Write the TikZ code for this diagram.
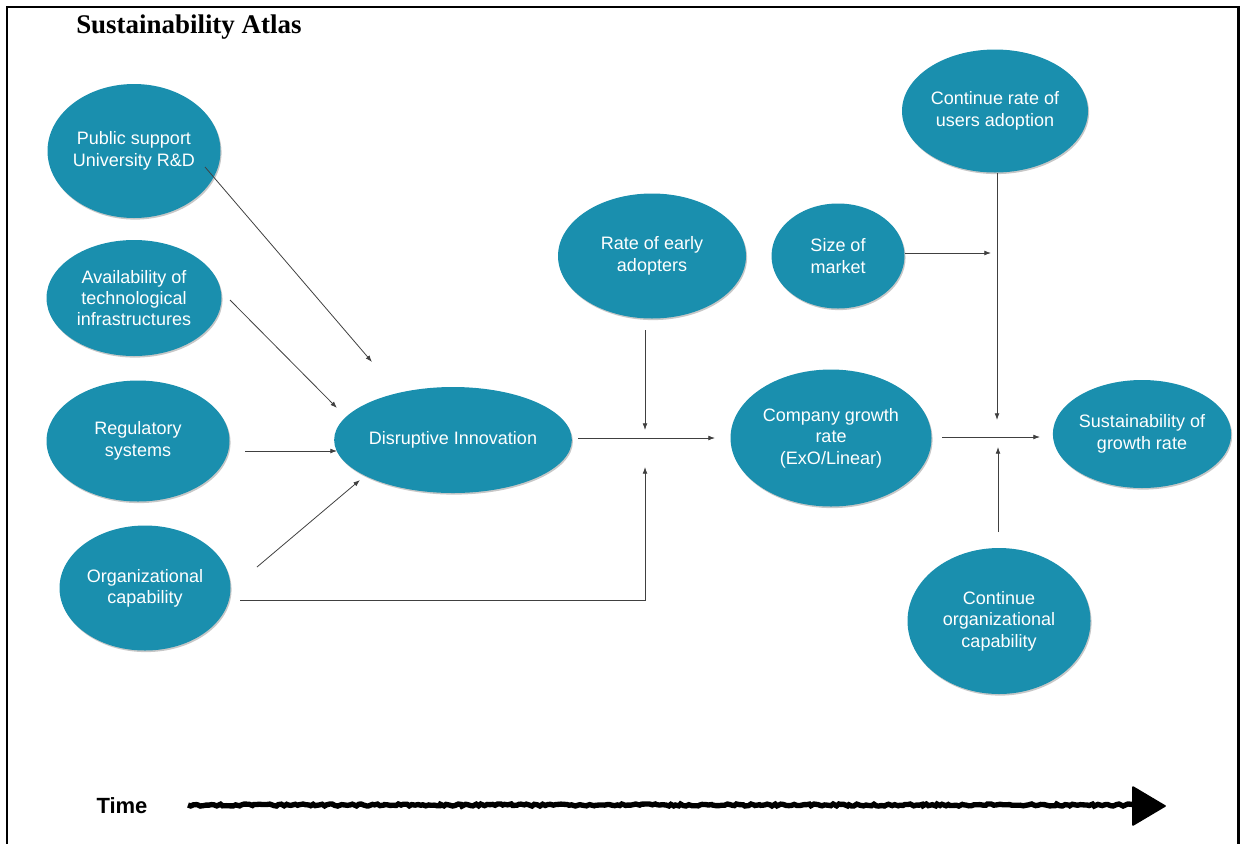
\documentclass[tikz,border=0pt]{standalone}
\usepackage{fontspec}
\setmainfont{Liberation Sans}
\newfontfamily\titlefont{Liberation Serif}
\usetikzlibrary{shapes.geometric,arrows.meta,shadows,decorations.pathmorphing}
\definecolor{teal1}{RGB}{26,143,174}
\tikzset{
  el/.style={ellipse, fill=teal1, text=white, inner sep=0pt, align=center,
    font=\fontsize{13.5pt}{16pt}\selectfont,
    drop shadow={shadow xshift=0.8pt, shadow yshift=-1.2pt, opacity=0.22, fill=black}},
  sz/.style 2 args={minimum width=#1*0.75pt, minimum height=#2*0.75pt},
  conn/.style={draw=black!75, line width=0.6pt, -{Latex[length=5pt,width=3.6pt]}},
}
\begin{document}
\begin{tikzpicture}[x=0.75pt,y=-0.75pt]
\useasboundingbox (0,0) rectangle (1241,843);
\clip (0,0) rectangle (1241,843);
% frame
\draw[line width=1.6pt] (7,7) -- (1238,7);
\draw[line width=1.6pt] (7,6) -- (7,860);
\draw[line width=2.4pt] (1238.5,6) -- (1238.5,860);
% title
\node[anchor=base west, font=\titlefont\bfseries\fontsize{20.2pt}{23pt}\selectfont, inner sep=0pt] (title) at (76,33) {Sustainability Atlas};

% nodes
\node[el, sz={173}{134}] (pub) at (134,151) {Public support\\University R\&D};
\node[el, sz={175}{116}] (avail) at (134,298) {Availability of\\technological\\infrastructures};
\node[el, sz={183}{121}] (reg) at (138,441) {Regulatory\\systems};
\node[el, sz={171}{125}] (org) at (145,588) {Organizational\\capability};
\node[el, sz={214}{106}] (dis) at (453,440) {Disruptive Innovation};
\node[el, sz={188}{125}] (early) at (652,256) {Rate of early\\adopters};
\node[el, sz={133}{105}] (size) at (838,256) {Size of\\market};
\node[el, sz={186}{123}] (cont) at (995,111) {Continue rate of\\users adoption};
\node[el, sz={201}{137}] (comp) at (831,438) {Company growth\\rate\\(ExO/Linear)};
\node[el, sz={172}{108}] (sust) at (1142,434) {Sustainability of\\growth rate};
\node[el, sz={183}{146}] (corg) at (999,621) {Continue\\organizational\\capability};

% connector end points
\coordinate (p1s) at (205,167); \coordinate (p1e) at (372,362);
\coordinate (p2s) at (230,300); \coordinate (p2e) at (337,408);
\coordinate (p3s) at (245,451); \coordinate (p3e) at (337,451);
\coordinate (p4s) at (257,567); \coordinate (p4e) at (360,480);
\coordinate (p5s) at (240,600); \coordinate (p5e) at (645,467);
\coordinate (p6s) at (578,438); \coordinate (p6e) at (715,438);
\coordinate (p7s) at (645,330); \coordinate (p7e) at (645,430);
\coordinate (p8s) at (905,253); \coordinate (p8e) at (991,253);
\coordinate (p9s) at (997,173); \coordinate (p9e) at (997,420);
\coordinate (p10s) at (942,437); \coordinate (p10e) at (1040,437);
\coordinate (p11s) at (998,532); \coordinate (p11e) at (998,447);

\draw[conn] (p1s) -- (p1e);
\draw[conn] (p2s) -- (p2e);
\draw[conn] (p3s) -- (p3e);
\draw[conn] (p4s) -- (p4e);
\draw[conn] (p5s) -| (p5e);
\draw[conn] (p6s) -- (p6e);
\draw[conn] (p7s) -- (p7e);
\draw[conn] (p8s) -- (p8e);
\draw[conn] (p9s) -- (p9e);
\draw[conn] (p10s) -- (p10e);
\draw[conn] (p11s) -- (p11e);

% time axis
\node[anchor=base, font=\bfseries\fontsize{16.5pt}{18pt}\selectfont, inner sep=0pt] (time) at (122,813) {Time};
\coordinate (t1) at (188,805);
\coordinate (t2) at (1136,805);
\draw[line width=4pt, black, decorate, decoration={random steps, segment length=2pt, amplitude=0.8pt}] (t1) -- (t2);
\draw[line width=1.2pt, line join=round, fill=black] (1133,787) -- (1165,806) -- (1133,825) -- cycle;
\end{tikzpicture}
\end{document}
